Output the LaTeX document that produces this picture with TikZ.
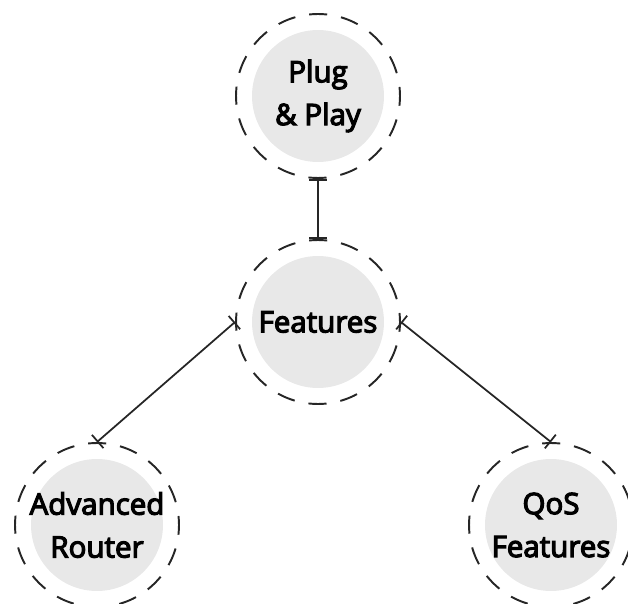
\documentclass[tikz,border=0pt]{standalone}
\usepackage{fontspec}
\setmainfont{Open Sans}
\newfontfamily\hubfont{Open Sans}[FakeBold=4]
\usetikzlibrary{arrows.meta}
\definecolor{fillgray}{HTML}{E8E8E8}
\begin{document}
\begin{tikzpicture}[x=0.02cm,y=-0.02cm,
  hub/.style={circle, draw=black!85, line width=1.1pt, minimum size=3.28cm, inner sep=0pt,
    dash pattern=on 10.3pt off 8pt, dash phase=5.15pt,
    align=center, font=\hubfont\fontsize{16.8}{24.4}\selectfont,
    path picture={\fill[fillgray] (path picture bounding box.center) circle (1.32cm);}},
  link/.style={draw=black!85, line width=1pt, {Bar[width=10pt]}-{Bar[width=10pt]}}]
\useasboundingbox (0,0) rectangle (628,604);
\node[hub] (pp) at (318,96) {Plug\\\& Play};
\node[hub] (feat) at (318,322) {Features};
\node[hub] (adv) at (97,525) {Advanced\\Router};
\node[hub] (qos) at (551,525) {QoS\\Features};
\draw[link] (pp.south) -- (feat.north);
\draw[link] (feat.west) -- (adv.north);
\draw[link] (feat.east) -- (qos.north);
\end{tikzpicture}
\end{document}
